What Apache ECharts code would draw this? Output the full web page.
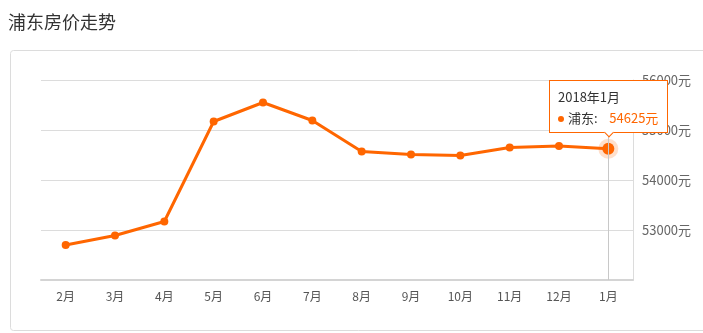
<!DOCTYPE html>
<html>
<head>
<meta charset="utf-8">
<script src="https://cdn.jsdelivr.net/npm/echarts@6/dist/echarts.min.js"></script>
<style>
html,body{margin:0;padding:0;background:#fff;}
#c{width:703px;height:333px;}
</style>
</head>
<body>
<div id="c"></div>
<script>
var categories = ['2月','3月','4月','5月','6月','7月','8月','9月','10月','11月','12月','1月'];
var values = [52700, 52890, 53170, 55170, 55550, 55190, 54570, 54510, 54490, 54650, 54680, 54625];
var tooltipTitle = '2018年1月';
var seriesName = '浦东';
var FONT = '"Noto Sans CJK SC", "Microsoft YaHei", sans-serif';
var ORANGE = '#ff6600';
var last = values.length - 1;

var seriesData = values.map(function (v, i) {
  if (i === last) {
    return { value: v, symbolSize: 12 };
  }
  return v;
});
var haloData = values.map(function (v, i) { return i === last ? v : '-'; });

var chart = echarts.init(document.getElementById('c'));
chart.setOption({
  animation: false,
  textStyle: { fontFamily: FONT },
  title: {
    text: '浦东房价走势',
    left: 3, top: 8,
    textStyle: { fontSize: 18, fontWeight: 'normal', color: '#333', fontFamily: FONT }
  },
  graphic: [{
    type: 'rect',
    shape: { x: 10.5, y: 50.5, width: 710, height: 280, r: 3 },
    style: { fill: 'none', stroke: '#dcdcdc', lineWidth: 1 },
    silent: true,
    z: -1
  }],
  grid: { left: 41, right: 70, top: 80, bottom: 53 },
  tooltip: {
    trigger: 'item',
    position: 'top',
    transitionDuration: 0,
    backgroundColor: '#fff',
    borderColor: ORANGE,
    borderWidth: 1,
    borderRadius: 0,
    padding: [5, 9, 4, 8],
    extraCssText: 'box-shadow:none;',
    textStyle: { fontFamily: FONT, fontSize: 13, color: '#333' },
    formatter: function (p) {
      return '<div style="line-height:21px;font-family:' + FONT.replace(/"/g, "'") + ';font-size:13px;color:#333;">' +
        tooltipTitle + '<br/>' +
        '<span style="display:inline-block;width:6px;height:6px;border-radius:50%;background:' + ORANGE + ';margin-right:4px;vertical-align:middle;"></span>' +
        seriesName + ':&nbsp;&nbsp;&nbsp;&nbsp;<span style="color:' + ORANGE + ';">' + p.value + '元</span></div>';
    }
  },
  xAxis: {
    type: 'category',
    data: categories,
    boundaryGap: true,
    axisLine: { lineStyle: { color: '#d4d4d4', width: 2 } },
    axisTick: { alignWithLabel: true, length: 4, lineStyle: { color: '#d4d4d4' } },
    axisLabel: { color: '#555', fontSize: 12, margin: 10, fontFamily: FONT },
    axisPointer: {
      show: true,
      type: 'line',
      value: '1月',
      status: 'show',
      triggerTooltip: false,
      label: { show: false },
      lineStyle: { color: '#c8c8c8', width: 1, type: 'solid' }
    }
  },
  yAxis: {
    type: 'value',
    position: 'right',
    min: 52000,
    max: 56000,
    interval: 1000,
    axisLine: { show: true, lineStyle: { color: '#dcdcdc', width: 1 } },
    axisTick: { show: false },
    splitLine: { lineStyle: { color: '#dcdcdc', width: 1 } },
    axisLabel: {
      color: '#666', fontSize: 13, margin: 9, fontFamily: FONT,
      showMinLabel: false,
      formatter: function (v) { return v + '元'; }
    }
  },
  series: [{
    name: 'halo',
    type: 'scatter',
    data: haloData,
    symbol: 'circle',
    symbolSize: 20,
    itemStyle: { color: 'rgba(255,102,0,0.25)' },
    silent: true,
    tooltip: { show: false },
    z: 1
  }, {
    name: seriesName,
    type: 'line',
    data: seriesData,
    symbol: 'circle',
    symbolSize: 8,
    lineStyle: { color: ORANGE, width: 3 },
    itemStyle: { color: ORANGE },
    emphasis: { disabled: true },
    z: 2
  }]
});
chart.dispatchAction({ type: 'showTip', seriesIndex: 1, dataIndex: last });
</script>
</body>
</html>
